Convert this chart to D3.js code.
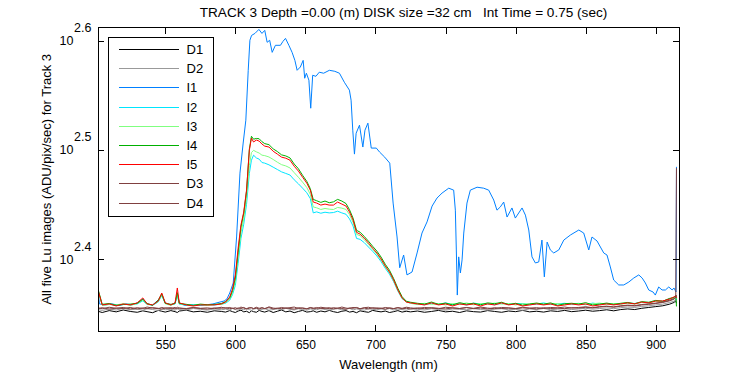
<!DOCTYPE html>
<html>
<head>
<meta charset="utf-8">
<script src="https://cdn.jsdelivr.net/npm/d3@7"></script>
<style>
  body { margin: 0; background: #fff; }
  text { font-family: "Liberation Sans", Arial, sans-serif; fill: #000; }
</style>
</head>
<body>
<div id="chart"></div>
<script>
// wavelength grid for I2..I5 and dark frames
const wl = [502, 505, 510, 515, 520, 525, 530, 534, 537, 541, 545, 547.5, 550, 554, 557, 558.6, 560, 565, 570, 575, 580, 585, 590,
  593, 596, 598, 600, 602, 604, 606, 608, 610, 611.5, 613, 615, 617, 619, 621, 624, 627, 630, 633, 636, 639, 642, 645, 648, 651, 653.5, 655.6, 658, 661, 664, 667, 670, 673, 676, 679, 681.5, 684, 686.5, 689, 692, 695, 698, 701, 704, 707, 710, 713, 716, 719, 722, 725,
  730, 735, 740, 745, 750, 755, 760, 765, 770, 775, 780, 785, 790, 795, 800, 805, 810, 815, 820, 825, 830, 835, 840, 845, 850, 855, 860, 865, 870, 875, 880, 885, 890, 895, 900, 905, 910, 913, 914.3, 914.8]

// I1 has its own (finer) grid, for the absorption lines
const wlI1 = [502, 503, 507, 512, 517, 522, 526, 530, 534, 537, 541, 545, 547.5, 550, 554, 557, 558.7, 560, 564, 569,
  574, 579, 584, 589, 592, 594, 596, 598.5, 600.9, 603.3, 605.6, 607.5, 609.2, 610.4, 611.6, 614, 616.8, 619, 621, 622.7,
  624.5, 626.3, 628.6, 632.2, 634, 635.8, 638.2, 640.5, 642.5, 644.1, 646.4, 648.4, 649.5, 650.7, 652.5, 653.8, 655.2, 657.5, 659.9, 663,
  667.1, 671, 674.3, 677.8, 681.4, 682.6, 683.8, 685, 686.2, 688.6, 691, 692.5, 694.6, 697, 700.6, 703, 706.6, 710.2, 712.6, 715.4,
  717.3, 720.1, 722.5, 726.1, 729.7, 733.2, 736.8, 740.4, 743.9, 747.5, 752.3, 755.8, 757, 757.7, 758.4, 759.4, 760.6, 761.8, 763, 765.3,
  767.7, 772.5, 777.2, 780.8, 784.4, 786.7, 789.1, 791.5, 793.9, 797.4, 799.8, 804.6, 807, 809.4, 811.7, 814.1, 816.5, 818.8, 820.5, 822.5,
  824.8, 827.2, 830.8, 834.4, 839.1, 845.1, 848.6, 852.2, 854.5, 858.1, 862.9, 865.2, 867.6, 870, 873.6, 877.2, 880.8, 884.3, 887.9, 890.3,
  892.6, 895, 898.1, 899.7, 902.1, 904.5, 906.9, 909.3, 911.7, 913, 914.5, 914.8]

const i1 = [236, 228.7, 228.2, 228.7, 228.0, 228.7, 228.2, 229.2, 231.1, 228.7, 228.2, 230.6, 233.0, 229.2, 228.2, 229.2, 233.5, 229.2, 228.0, 228.2,
  228.0, 228.2, 228.7, 229.6, 230.1, 231.1, 234.0, 239.0, 263.3, 301.2, 320.9, 336.7, 374.0, 398.4, 402.5, 404.2, 407.6, 404.2, 406.8, 396.7,
  398.4, 388.4, 394.2, 394.2, 397.5, 400.0, 394.2, 388.4, 381.9, 374.0, 376.6, 381.9, 367.8, 371.7, 366.3, 345.3, 370.1, 369.3, 372.5, 371.7,
  374.0, 373.2, 371.7, 364.7, 358.7, 351.2, 329.7, 313.5, 327.6, 333.2, 318.2, 329.7, 334.6, 317.5, 317.5, 314.8, 311.5, 307.6, 282.8, 263.3,
  246.8, 253.5, 243.1, 244.6, 254.6, 265.5, 271.8, 281.0, 285.8, 288.8, 291.8, 290.6, 278.6, 256.2, 233.0, 252.5, 244.1, 250.9, 265.5, 282.8,
  290.6, 292.4, 291.8, 290.6, 284.6, 278.6, 280.5, 283.4, 274.6, 279.9, 274.0, 279.9, 275.7, 267.2, 252.5, 249.3, 249.8, 261.6, 242.1, 260.5,
  256.2, 254.6, 256.2, 261.6, 264.4, 267.2, 265.5, 256.2, 263.3, 261.1, 254.6, 253.5, 247.2, 240.5, 238.0, 238.0, 239.5, 241.5, 243.1, 241.5,
  239.0, 235.5, 234.5, 233.0, 237.0, 235.5, 235.5, 237.0, 235.5, 236.5, 234.5, 305.2]

const i2 = [235.2, 228.2, 228.6, 227.9, 228.5, 228.3, 228.7, 230.2, 228.5, 228.1, 229.6, 232.8, 228.9, 228.3, 228.7, 233.0, 228.6, 228.1, 228.2, 228.0, 228.4, 228.2, 228.6,
  229.0, 230.5, 233.2, 237.8, 249.0, 262.5, 270.5, 282.0, 301.0, 309.5, 312.8, 311.0, 310.2, 308.0, 307.6, 306.5, 305.0, 303.5, 302.0, 301.0,
  300.0, 297.0, 294.5, 291.8, 289.0, 285.5, 277.0, 277.6, 276.8, 277.4, 277.0, 277.2, 278.0, 277.0, 276.2, 273.5, 269.5, 262.5, 262.0, 260.2,
  257.8, 255.5, 253.0, 250.0, 246.5, 243.5, 239.6, 235.0, 231.2, 229.8, 229.1,
  228.6, 228.3, 229.0, 228.5, 229.2, 228.4, 228.8, 228.2, 229.1, 228.6, 228.9, 228.3, 229.0, 228.5, 228.8, 228.9, 228.3, 228.6, 229.2, 228.4,
  228.7, 229.0, 228.5, 228.8, 228.3, 229.1, 228.6, 228.9, 228.4, 228.8, 229.1, 228.9, 229.5, 229.3, 230.2, 229.9, 231.2, 231.7, 232.5, 230.5]

const i3 = [235.0, 228.0, 228.4, 228.2, 228.8, 228.0, 228.9, 230.6, 228.4, 228.3, 229.8, 233.2, 228.8, 228.0, 229.0, 233.5, 228.8, 228.3, 227.9, 228.4, 228.0, 228.5, 228.4,
  229.3, 231.0, 234.2, 239.8, 252.5, 265.5, 273.5, 285.5, 306.0, 314.5, 316.0, 315.0, 314.2, 312.8, 312.5, 311.6, 310.0, 308.2, 306.6, 305.8,
  304.5, 301.5, 298.6, 295.5, 292.2, 288.0, 280.5, 280.0, 279.0, 279.6, 279.2, 279.0, 280.2, 279.8, 279.0, 276.0, 271.5, 264.8, 264.0, 261.8,
  259.2, 256.6, 254.0, 250.8, 247.2, 244.2, 240.0, 235.2, 231.4, 229.7, 229.0,
  228.4, 229.0, 228.5, 228.8, 228.2, 228.9, 228.4, 229.2, 228.3, 228.9, 228.5, 229.1, 228.6, 228.9, 228.2, 228.8, 228.5, 229.0, 228.4, 228.7,
  228.9, 228.3, 228.7, 229.0, 228.4, 228.8, 229.1, 228.5, 228.9, 228.6, 229.0, 228.7, 229.4, 229.2, 230.0, 229.8, 231.0, 231.6, 232.3, 231.0]

const i4 = [236.0, 228.5, 228.9, 228.0, 228.4, 228.6, 229.0, 231.0, 228.9, 228.0, 230.5, 233.6, 229.0, 228.5, 228.9, 234.2, 229.0, 228.5, 228.0, 228.6, 228.3, 228.4, 228.9,
  229.8, 231.6, 235.2, 241.5, 255.0, 268.8, 276.8, 290.0, 316.8, 325.5, 323.5, 324.0, 323.8, 321.8, 320.5, 319.8, 317.0, 315.2, 313.0, 312.3,
  311.0, 307.0, 304.0, 299.8, 296.0, 291.5, 285.0, 284.2, 283.2, 284.0, 283.0, 283.5, 285.0, 284.0, 282.5, 278.8, 274.0, 267.0, 266.0, 263.6,
  261.0, 258.2, 255.6, 252.4, 248.6, 245.5, 241.2, 236.3, 232.2, 230.0, 229.5,
  229.0, 228.6, 229.6, 228.5, 229.1, 228.2, 229.3, 228.6, 229.0, 228.3, 229.2, 228.8, 229.5, 228.4, 229.0, 228.1, 228.7, 229.1, 228.6, 229.2,
  228.0, 228.8, 229.0, 228.6, 229.3, 228.2, 228.6, 229.1, 228.5, 229.0, 229.4, 228.8, 229.8, 229.5, 230.4, 230.0, 231.4, 231.8, 232.8, 227.5]

const i5 = [235.5, 228.2, 228.7, 227.7, 228.7, 228.2, 229.2, 231.6, 228.7, 228.2, 230.1, 234.0, 229.2, 228.2, 229.2, 236.5, 229.2, 228.2, 227.7, 228.2, 228.2, 228.2, 228.7,
  229.6, 232.1, 236.0, 243.1, 257.2, 270.1, 277.5, 290.6, 316.1, 324.2, 321.6, 322.9, 322.2, 320.2, 318.8, 318.2, 315.4, 313.5, 311.5, 310.8,
  309.5, 305.6, 302.5, 298.6, 294.9, 290.6, 283.4, 282.8, 281.6, 282.2, 281.6, 281.6, 283.4, 282.2, 281.0, 277.5, 272.9, 265.9, 264.9, 262.7,
  260.0, 257.2, 254.6, 251.4, 247.7, 244.6, 240.5, 235.5, 231.6, 229.6, 229.2,
  228.7, 228.2, 229.2, 228.2, 228.7, 227.7, 228.7, 228.2, 228.7, 227.7, 228.7, 228.2, 229.2, 228.2, 228.7, 227.7, 228.2, 228.7, 228.2, 228.7,
  227.7, 228.2, 228.7, 228.2, 228.7, 227.7, 228.2, 228.7, 228.2, 228.7, 229.2, 228.7, 229.6, 229.2, 230.1, 230.1, 231.1, 232.1, 232.6, 231.6]

const d1 = [225.2, 224.6, 225.5, 224.9, 225.8, 225.1, 224.7, 225.4, 225.0, 224.5, 225.6, 225.2, 224.8, 225.5, 225.0, 224.6, 225.3, 225.7, 224.9, 225.2, 224.7, 225.4, 225.1,
  224.8, 225.5, 225.0, 224.6, 225.3, 225.7, 224.9, 225.2, 224.5, 225.4, 225.0, 224.7, 225.6, 225.1, 224.8, 225.5, 224.6, 225.2, 225.8, 224.9,
  225.3, 224.5, 225.1, 225.6, 224.8, 225.0, 225.4, 224.7, 225.3, 224.9, 225.6, 225.0, 224.6, 225.2, 225.5, 224.8, 225.1, 224.5, 225.4, 225.0,
  224.7, 225.6, 225.2, 224.9, 225.3, 224.6, 225.0, 225.5, 224.8, 225.2, 224.9,
  225.3, 224.7, 225.1, 225.6, 224.9, 225.2, 224.6, 225.4, 225.0, 224.8, 225.5, 225.1, 224.7, 225.3, 225.0, 225.6, 224.9, 225.2, 224.8, 225.4,
  225.1, 225.6, 225.0, 225.3, 225.7, 225.2, 225.5, 225.9, 225.4, 226.0, 226.3, 226.0, 226.6, 227.0, 227.4, 227.8, 228.6, 229.4, 230.2, 229.0]

const d2 = [226.0, 225.6, 226.3, 225.8, 226.5, 225.9, 226.2, 225.7, 226.4, 226.0, 225.6, 226.3, 225.9, 226.1, 225.7, 226.4, 226.0, 225.8, 226.5, 226.1, 225.7, 226.3, 225.9,
  226.2, 225.8, 226.5, 226.0, 225.7, 226.3, 225.9, 226.4, 226.0, 225.6, 226.2, 226.5, 225.8, 226.1, 226.4, 225.7, 226.0, 226.3, 225.9, 226.6,
  226.1, 225.8, 226.4, 226.0, 225.7, 226.3, 226.1, 225.9, 226.5, 226.0, 225.8, 226.2, 226.4, 225.9, 226.1, 226.6, 225.8, 226.3, 226.0, 225.7,
  226.4, 226.1, 225.9, 226.3, 226.0, 226.5, 225.8, 226.2, 226.0, 225.7, 226.3,
  226.1, 225.8, 226.4, 226.0, 225.7, 226.3, 226.1, 225.9, 226.5, 226.0, 225.8, 226.2, 226.4, 225.9, 226.1, 225.7, 226.3, 226.0, 226.5, 225.9,
  226.2, 226.4, 226.0, 226.3, 226.6, 226.2, 226.5, 226.8, 226.4, 226.9, 227.2, 227.0, 227.5, 227.8, 228.2, 228.6, 229.4, 230.0, 230.8, 230.0]

const d3s = [226.8, 226.4, 227.1, 226.6, 227.0, 226.3, 226.9, 226.5, 227.2, 226.7, 226.4, 227.0, 226.6, 226.9, 226.3, 227.1, 226.7, 226.5, 227.0, 226.6, 226.8, 226.4, 227.1,
  226.6, 227.0, 226.5, 226.9, 226.3, 227.2, 226.7, 226.4, 227.0, 226.8, 226.5, 227.1, 226.6, 226.9, 226.4, 227.3, 226.7, 226.5, 227.0, 226.6,
  226.9, 227.2, 226.5, 226.8, 226.4, 227.0, 226.7, 226.5, 227.1, 226.8, 226.4, 226.9, 226.6, 227.2, 226.7, 226.5, 227.0, 226.8, 226.4, 226.9,
  227.1, 226.6, 226.8, 226.5, 227.0, 226.7, 226.4, 226.9, 226.6, 227.1, 226.8,
  226.5, 227.0, 226.7, 226.4, 227.1, 226.8, 226.5, 226.9, 226.6, 227.2, 226.7, 226.4, 227.0, 226.8, 226.5, 227.1, 226.7, 226.9, 226.5, 227.0,
  226.8, 227.2, 226.7, 227.0, 227.3, 226.9, 227.4, 227.6, 227.3, 227.8, 228.1, 227.9, 228.4, 228.7, 229.1, 229.6, 230.5, 231.2, 232.0, 304.4]

const d4 = [226.4, 226.9, 226.2, 226.7, 226.5, 227.0, 226.3, 226.8, 226.4, 226.9, 226.6, 226.2, 226.8, 226.5, 227.0, 226.4, 226.7, 226.3, 226.9, 226.5, 226.2, 226.8, 226.6,
  226.9, 226.4, 226.7, 226.2, 226.8, 226.5, 227.0, 226.3, 226.6, 226.9, 226.4, 226.7, 226.2, 226.8, 226.5, 226.9, 226.3, 226.7, 226.4, 226.8,
  226.5, 226.2, 226.9, 226.6, 226.3, 226.8, 226.5, 227.0, 226.4, 226.6, 226.9, 226.3, 226.7, 226.5, 226.2, 226.8, 226.6, 227.0, 226.4, 226.7,
  226.3, 226.9, 226.5, 226.7, 226.2, 226.8, 226.5, 226.9, 226.4, 226.6, 226.3,
  226.8, 226.4, 226.9, 226.6, 226.3, 226.8, 226.5, 227.0, 226.4, 226.7, 226.3, 226.9, 226.5, 226.7, 226.4, 226.8, 226.6, 226.3, 226.9, 226.5,
  226.7, 226.4, 226.9, 226.7, 227.1, 226.8, 227.2, 227.5, 227.1, 227.6, 227.9, 227.7, 228.2, 228.5, 228.9, 229.4, 230.2, 231.0, 231.8, 233.0]

const names = ['D1', 'D2', 'I1', 'I2', 'I3', 'I4', 'I5', 'D3', 'D4']
const colors = ['#000000', '#999999', '#0080ff', '#00e5ff', '#80ff80', '#00b000', '#ff0000', '#804040', '#804040']
const xs = [wl, wl, wlI1, wl, wl, wl, wl, wl, wl]
const ys = [d1, d2, i1, i2, i3, i4, i5, d3s, d4]

const xTicks = [550, 600, 650, 700, 750, 800, 850, 900]
const yTickExp = [2.4, 2.5, 2.6]

const title = 'TRACK 3 Depth =0.00 (m) DISK size =32 cm   Int Time = 0.75 (sec)'
const xTitle = 'Wavelength (nm)'
const yTitle = 'All five Lu images (ADU/pix/sec) for Track 3'

const W = 750, H = 375
const box = {left: 98, right: 679, top: 27.5, bottom: 331}

const svg = d3.select('#chart').append('svg')
  .attr('width', W)
  .attr('height', H)

const x = d3.scaleLinear().domain([502, 916.6]).range([box.left, box.right])
const y = d3.scaleLog().domain([Math.pow(10, 2.3345), Math.pow(10, 2.612)]).range([box.bottom, box.top])

svg.append('clipPath').attr('id', 'clip')
  .append('rect')
  .attr('x', box.left).attr('y', box.top)
  .attr('width', box.right - box.left).attr('height', box.bottom - box.top)

const line = d3.line().x(d => x(d[0])).y(d => y(d[1]))

const plot = svg.append('g').attr('clip-path', 'url(#clip)')
names.forEach((n, i) => {
  const pts = ys[i].map((v, k) => [xs[i][k], v]).filter(d => d[0] != null)
  plot.append('path')
    .datum(pts)
    .attr('d', line)
    .attr('fill', 'none')
    .attr('stroke', colors[i])
    .attr('stroke-width', 1)
})

// axes, ticks inside on all four sides
const tk = 6
svg.append('g')
  .attr('transform', `translate(0,${box.bottom})`)
  .call(d3.axisBottom(x).tickValues(xTicks).tickSizeInner(-tk).tickSizeOuter(0).tickPadding(9))
svg.append('g')
  .attr('transform', `translate(0,${box.top})`)
  .call(d3.axisTop(x).tickValues(xTicks).tickSizeInner(-tk).tickSizeOuter(0).tickFormat(''))
svg.append('g')
  .attr('transform', `translate(${box.left},0)`)
  .call(d3.axisLeft(y).tickValues(yTickExp.map(e => Math.pow(10, e))).tickSizeInner(-tk).tickSizeOuter(0).tickFormat(''))
svg.append('g')
  .attr('transform', `translate(${box.right},0)`)
  .call(d3.axisRight(y).tickValues(yTickExp.map(e => Math.pow(10, e))).tickSizeInner(-tk).tickSizeOuter(0).tickFormat(''))

svg.selectAll('.domain').remove()
svg.selectAll('.tick line').attr('stroke', '#000').attr('shape-rendering', 'crispEdges')
svg.selectAll('.tick text').style('font-size', '12px').style('font-family', '"Liberation Sans", Arial, sans-serif')

svg.append('rect')
  .attr('x', box.left).attr('y', box.top)
  .attr('width', box.right - box.left).attr('height', box.bottom - box.top)
  .attr('fill', 'none').attr('stroke', '#000')
  .attr('shape-rendering', 'crispEdges')

// y tick labels as 10^e
const yl = svg.append('g').style('font-size', '12.5px')
yTickExp.forEach(e => {
  const yy = y(Math.pow(10, e))
  yl.append('text').attr('x', 73.5).attr('y', yy + 4.5).attr('text-anchor', 'end').text('10')
  yl.append('text').attr('x', 74).attr('y', yy - 8.5).text(e.toFixed(1))
})

svg.append('text')
  .attr('x', 403.5)
  .attr('y', 17)
  .attr('text-anchor', 'middle')
  .attr('xml:space', 'preserve')
  .style('white-space', 'pre')
  .style('font-size', '13.6px')
  .text(title)

svg.append('text')
  .attr('x', (box.left + box.right) / 2)
  .attr('y', 369)
  .attr('text-anchor', 'middle')
  .style('font-size', '13px')
  .text(xTitle)

svg.append('text')
  .attr('transform', `translate(51,${(box.top + box.bottom) / 2}) rotate(-90)`)
  .attr('text-anchor', 'middle')
  .style('font-size', '13px')
  .text(yTitle)

// legend
const lg = svg.append('g')
lg.append('rect')
  .attr('x', 108.5).attr('y', 37.5)
  .attr('width', 105).attr('height', 179)
  .attr('fill', '#fff').attr('stroke', '#000')
  .attr('shape-rendering', 'crispEdges')
names.forEach((n, i) => {
  const ly = Math.round(49 + i * 19.2) + 0.5
  lg.append('path')
    .attr('d', `M119,${ly}H179`)
    .attr('fill', 'none')
    .attr('stroke', colors[i])
    .attr('stroke-width', 1)
  lg.append('text')
    .attr('x', 186.5).attr('y', ly + 4.5)
    .style('font-size', '13px')
    .text(n)
})
</script>
</body>
</html>
